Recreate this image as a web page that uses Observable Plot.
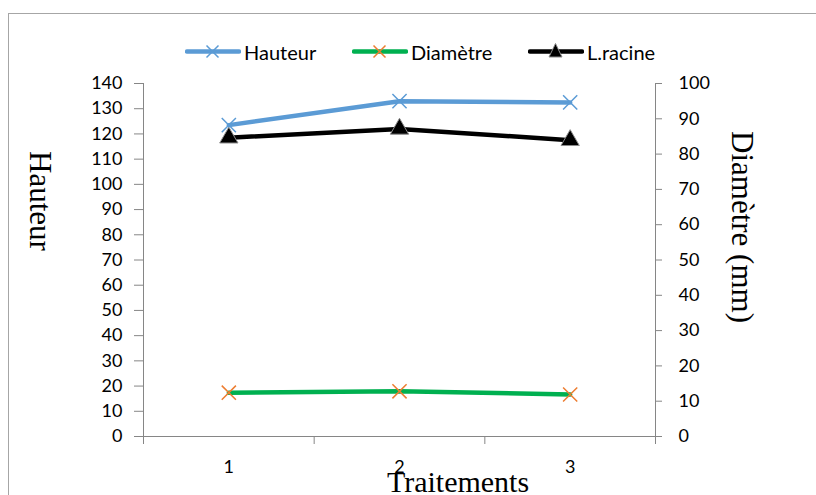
<!DOCTYPE html>
<html><head><meta charset="utf-8">
<script src="https://cdn.jsdelivr.net/npm/d3@7"></script>
<script src="https://cdn.jsdelivr.net/npm/@observablehq/plot@0.6"></script>
<style>
body{margin:0;background:#fff;}
#wrap{position:relative;width:816px;height:495px;overflow:hidden;font-family:Lato,sans-serif;background:#fff;}
#border{position:absolute;left:8px;top:13px;width:900px;height:600px;border-left:1.5px solid #a6a6a6;border-top:1.5px solid #a6a6a6;}
#chart{position:absolute;left:0;top:0;}
.leg{position:absolute;top:40px;height:24px;display:flex;align-items:center;font-size:20px;color:#000;}
.leg svg{margin-right:3px;}
.ylab{position:absolute;writing-mode:vertical-rl;font-family:"Liberation Serif","Times New Roman",serif;font-size:31px;color:#000;transform:translate(-50%,-50%);white-space:nowrap;line-height:1;}
#xlab{position:absolute;font-family:"Liberation Serif","Times New Roman",serif;font-size:30px;color:#000;transform:translateX(-50%);white-space:nowrap;line-height:1;}
</style></head>
<body>
<div id="wrap">
  <div id="border"></div>
  <div id="chart"></div>
  <div id="legend"></div>
  <div class="ylab" id="ylabL" style="left:40px;top:201px;">Hauteur</div>
  <div class="ylab" id="ylabR" style="left:742px;top:227px;">Diamètre (mm)</div>
  <div id="xlab" style="left:458px;top:467px;">Traitements</div>
</div>
<script>
const categories = [1, 2, 3];
const hauteur = [123.5, 133, 132.5];      // left axis
const racine = [118.5, 122, 117.5];       // left axis
const diametre = [12.4, 12.8, 11.9];      // right axis (mm)
const leftTicks = d3.range(0, 141, 10);
const rightTicks = d3.range(0, 101, 10);
const seriesNames = ["Hauteur", "Diamètre", "L.racine"];

const ratio = 140 / 100;
const rows = categories.map((c, i) => ({c, h: hauteur[i], r: racine[i], d: diametre[i] * ratio}));
const gray = "#868686";

const chart = Plot.plot({
  width: 816, height: 495,
  marginLeft: 143, marginRight: 161, marginTop: 83, marginBottom: 59,
  style: {fontFamily: "Lato, sans-serif", fontSize: "18px", color: "#000", background: "transparent"},
  x: {domain: [0.5, 3.5], axis: null, label: null},
  y: {domain: [0, 140], axis: null, label: null},
  marks: [
    Plot.ruleY([0], {stroke: gray, strokeWidth: 1}),
    Plot.ruleX([0.5], {stroke: gray, strokeWidth: 1}),
    Plot.ruleX([3.5], {stroke: gray, strokeWidth: 1}),
    Plot.axisX([0.5, 1.5, 2.5, 3.5], {tickSize: 8, tickFormat: () => "", stroke: gray, label: null}),
    Plot.axisX(categories, {tickSize: 0, tickPadding: 24, fill: "#000", label: null, tickFormat: d => String(d)}),
    Plot.axisY(leftTicks, {anchor: "left", tickSize: 9, tickPadding: 12, stroke: gray, fill: "#000", label: null, tickFormat: d => String(d)}),
    Plot.axisY(rightTicks, {anchor: "right", y: d => d * ratio, tickSize: 6, tickPadding: 17, stroke: gray, fill: "#000", label: null, tickFormat: d => String(d)}),
    Plot.line(rows, {x: "c", y: "d", stroke: "#00B050", strokeWidth: 4.5, strokeLinecap: "round", strokeLinejoin: "round"}),
    Plot.dot(rows, {x: "c", y: "d", symbol: "times", stroke: "#ED7D31", r: 6.5, strokeWidth: 1.5}),
    Plot.line(rows, {x: "c", y: "r", stroke: "#000", strokeWidth: 4.5, strokeLinecap: "round", strokeLinejoin: "round"}),
    Plot.dot(rows, {x: "c", y: "r", symbol: "triangle", fill: "#000", stroke: "#8c8c8c", r: 6.8, strokeWidth: 1}),
    Plot.line(rows, {x: "c", y: "h", stroke: "#5B9BD5", strokeWidth: 4.5, strokeLinecap: "round", strokeLinejoin: "round"}),
    Plot.dot(rows, {x: "c", y: "h", symbol: "times", stroke: "#5B9BD5", r: 6.5, strokeWidth: 1.5})
  ]
});
document.getElementById("chart").appendChild(chart);

// Legend
const legendSpec = [
  {name: seriesNames[0], left: 185, line: "#5B9BD5", marker: "times", mcolor: "#5B9BD5"},
  {name: seriesNames[1], left: 352, line: "#00B050", marker: "times", mcolor: "#ED7D31"},
  {name: seriesNames[2], left: 528, line: "#000", marker: "triangle", mcolor: "#000"}
];
const legend = document.getElementById("legend");
for (const s of legendSpec) {
  const div = document.createElement("div");
  div.className = "leg";
  div.style.left = s.left + "px";
  let m;
  if (s.marker === "times") {
    m = `<path d="M21.5,5.5 L33.5,17.5 M33.5,5.5 L21.5,17.5" stroke="${s.mcolor}" stroke-width="1.5"/>`;
  } else {
    m = `<path d="M27.5,3.5 L34,17 L21,17 Z" fill="#000" stroke="#8c8c8c" stroke-width="1"/>`;
  }
  div.innerHTML = `<svg width="56" height="24"><line x1="2" y1="11.5" x2="54" y2="11.5" stroke="${s.line}" stroke-width="4.5" stroke-linecap="round"/>${m}</svg><span>${s.name}</span>`;
  legend.appendChild(div);
}
</script>
</body></html>
